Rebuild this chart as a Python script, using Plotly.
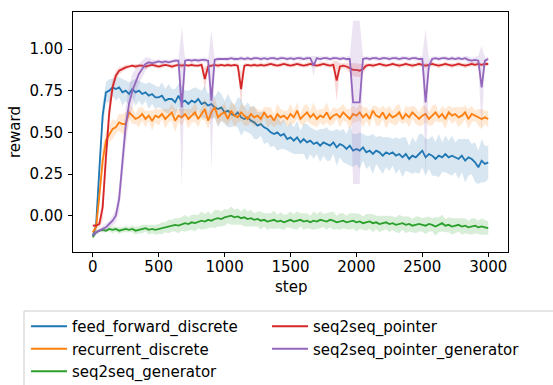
import plotly.graph_objects as go

steps = list(range(0, 3001, 25))

names = ["feed_forward_discrete", "recurrent_discrete", "seq2seq_generator",
         "seq2seq_pointer", "seq2seq_pointer_generator"]
colors = ["#1f77b4", "#ff7f0e", "#2ca02c", "#d62728", "#9467bd"]
fills = ["rgba(31,119,180,0.18)", "rgba(255,127,14,0.18)", "rgba(44,160,44,0.18)",
         "rgba(214,39,40,0.18)", "rgba(148,103,189,0.18)"]

ff_mean = [
    -0.12, -0.06, 0.28, 0.60, 0.74, 0.75, 0.77, 0.76, 0.77, 0.74,
    0.75, 0.73, 0.76, 0.74, 0.75, 0.73, 0.74, 0.72, 0.73, 0.71,
    0.71, 0.72, 0.69, 0.70, 0.70, 0.68, 0.72, 0.68, 0.69, 0.67,
    0.69, 0.68, 0.70, 0.67, 0.68, 0.66, 0.67, 0.65, 0.64, 0.65,
    0.62, 0.63, 0.61, 0.60, 0.62, 0.59, 0.58, 0.59, 0.57, 0.56,
    0.54, 0.55, 0.53, 0.52, 0.50, 0.49, 0.50, 0.48, 0.49, 0.46,
    0.47, 0.45, 0.47, 0.44, 0.46, 0.44, 0.45, 0.43, 0.44, 0.42,
    0.44, 0.43, 0.42, 0.44, 0.41, 0.43, 0.42, 0.40, 0.42, 0.39,
    0.40, 0.39, 0.41, 0.38, 0.39, 0.37, 0.39, 0.38, 0.36, 0.38,
    0.37, 0.38, 0.36, 0.37, 0.35, 0.37, 0.34, 0.36, 0.35, 0.37,
    0.39, 0.35, 0.37, 0.36, 0.34, 0.36, 0.35, 0.37, 0.35, 0.36,
    0.35, 0.34, 0.36, 0.33, 0.35, 0.34, 0.32, 0.29, 0.33, 0.31,
    0.32]
ff_band = [
    0.01, 0.04, 0.08, 0.08, 0.06, 0.07, 0.05, 0.07, 0.06, 0.08,
    0.06, 0.07, 0.05, 0.08, 0.06, 0.07, 0.05, 0.08, 0.06, 0.07,
    0.06, 0.08, 0.07, 0.09, 0.06, 0.08, 0.07, 0.10, 0.06, 0.08,
    0.07, 0.09, 0.06, 0.08, 0.10, 0.07, 0.09, 0.06, 0.11, 0.08,
    0.07, 0.10, 0.08, 0.06, 0.09, 0.11, 0.07, 0.09, 0.08, 0.10,
    0.08, 0.07, 0.10, 0.08, 0.09, 0.07, 0.11, 0.08, 0.09, 0.07,
    0.09, 0.08, 0.10, 0.07, 0.09, 0.11, 0.08, 0.09, 0.07, 0.10,
    0.08, 0.10, 0.09, 0.07, 0.11, 0.08, 0.10, 0.09, 0.12, 0.10,
    0.09, 0.11, 0.08, 0.10, 0.09, 0.12, 0.08, 0.10, 0.11, 0.09,
    0.10, 0.08, 0.11, 0.09, 0.12, 0.10, 0.08, 0.11, 0.09, 0.12,
    0.10, 0.11, 0.09, 0.12, 0.10, 0.13, 0.09, 0.11, 0.10, 0.12,
    0.09, 0.12, 0.10, 0.13, 0.11, 0.09, 0.12, 0.10, 0.13, 0.11,
    0.10]

rec_mean = [
    -0.10, -0.07, 0.12, 0.33, 0.45, 0.49, 0.52, 0.53, 0.56, 0.55,
    0.55, 0.62, 0.60, 0.58, 0.59, 0.61, 0.58, 0.60, 0.57, 0.60,
    0.59, 0.61, 0.58, 0.60, 0.62, 0.57, 0.60, 0.59, 0.61, 0.58,
    0.60, 0.62, 0.58, 0.61, 0.64, 0.57, 0.62, 0.65, 0.59, 0.61,
    0.62, 0.58, 0.63, 0.60, 0.59, 0.62, 0.60, 0.58, 0.61, 0.59,
    0.60, 0.58, 0.62, 0.59, 0.60, 0.57, 0.61, 0.59, 0.60, 0.58,
    0.61, 0.59, 0.63, 0.58, 0.60, 0.62, 0.59, 0.61, 0.58, 0.60,
    0.59, 0.62, 0.58, 0.60, 0.61, 0.59, 0.62, 0.60, 0.58, 0.61,
    0.60, 0.62, 0.59, 0.61, 0.58, 0.63, 0.60, 0.59, 0.62, 0.58,
    0.61, 0.59, 0.60, 0.62, 0.58, 0.61, 0.59, 0.62, 0.60, 0.58,
    0.60, 0.61, 0.58, 0.60, 0.62, 0.59, 0.61, 0.58, 0.62, 0.60,
    0.61, 0.59, 0.60, 0.62, 0.58, 0.61, 0.60, 0.59, 0.58, 0.59,
    0.58]
rec_band = [
    0.01, 0.03, 0.06, 0.08, 0.06, 0.05, 0.06, 0.04, 0.05, 0.06,
    0.07, 0.04, 0.05, 0.03, 0.06, 0.04, 0.05, 0.03, 0.06, 0.04,
    0.05, 0.03, 0.06, 0.04, 0.05, 0.07, 0.04, 0.05, 0.03, 0.06,
    0.04, 0.06, 0.05, 0.03, 0.07, 0.05, 0.04, 0.06, 0.05, 0.04,
    0.06, 0.04, 0.05, 0.07, 0.03, 0.05, 0.06, 0.04, 0.05, 0.06,
    0.04, 0.05, 0.03, 0.06, 0.05, 0.04, 0.06, 0.05, 0.03, 0.05,
    0.06, 0.04, 0.05, 0.03, 0.06, 0.05, 0.04, 0.07, 0.05, 0.04,
    0.05, 0.06, 0.04, 0.05, 0.03, 0.06, 0.05, 0.04, 0.06, 0.05,
    0.04, 0.05, 0.06, 0.04, 0.05, 0.03, 0.06, 0.05, 0.04, 0.06,
    0.05, 0.04, 0.06, 0.05, 0.03, 0.05, 0.06, 0.04, 0.05, 0.04,
    0.06, 0.05, 0.04, 0.06, 0.05, 0.03, 0.05, 0.06, 0.04, 0.05,
    0.04, 0.06, 0.05, 0.04, 0.06, 0.05, 0.03, 0.05, 0.06, 0.04,
    0.05]

gen_mean = [
    -0.13, -0.10, -0.09, -0.085, -0.09, -0.08, -0.085, -0.08, -0.09, -0.085,
    -0.08, -0.085, -0.08, -0.09, -0.085, -0.08, -0.075, -0.085, -0.08, -0.085,
    -0.08, -0.075, -0.07, -0.065, -0.06, -0.055, -0.06, -0.05, -0.045, -0.05,
    -0.04, -0.045, -0.035, -0.03, -0.035, -0.025, -0.03, -0.02, -0.015, -0.02,
    -0.01, -0.005, 0.0, -0.01, -0.005, -0.015, -0.01, -0.02, -0.015, -0.025,
    -0.02, -0.03, -0.025, -0.035, -0.03, -0.025, -0.035, -0.03, -0.04, -0.03,
    -0.025, -0.035, -0.03, -0.025, -0.035, -0.03, -0.04, -0.03, -0.035, -0.025,
    -0.03, -0.035, -0.025, -0.03, -0.04, -0.035, -0.03, -0.04, -0.035, -0.03,
    -0.04, -0.035, -0.045, -0.04, -0.035, -0.045, -0.04, -0.05, -0.045, -0.04,
    -0.05, -0.045, -0.055, -0.05, -0.045, -0.055, -0.05, -0.06, -0.055, -0.05,
    -0.055, -0.06, -0.05, -0.055, -0.065, -0.055, -0.045, -0.06, -0.055, -0.065,
    -0.06, -0.055, -0.065, -0.06, -0.07, -0.065, -0.06, -0.07, -0.065, -0.07,
    -0.075]
gen_band = [
    0.01, 0.015, 0.01, 0.015, 0.01, 0.015, 0.02, 0.015, 0.02, 0.015,
    0.02, 0.015, 0.02, 0.025, 0.02, 0.025, 0.02, 0.03, 0.025, 0.03,
    0.03, 0.035, 0.03, 0.04, 0.035, 0.04, 0.045, 0.04, 0.05, 0.04,
    0.045, 0.05, 0.04, 0.055, 0.045, 0.05, 0.04, 0.055, 0.05, 0.045,
    0.05, 0.04, 0.055, 0.045, 0.05, 0.04, 0.055, 0.045, 0.05, 0.04,
    0.045, 0.055, 0.04, 0.05, 0.045, 0.055, 0.04, 0.05, 0.045, 0.04,
    0.05, 0.045, 0.055, 0.04, 0.05, 0.045, 0.04, 0.055, 0.045, 0.05,
    0.04, 0.05, 0.045, 0.055, 0.04, 0.05, 0.045, 0.04, 0.05, 0.045,
    0.055, 0.045, 0.04, 0.05, 0.045, 0.055, 0.04, 0.05, 0.045, 0.04,
    0.05, 0.04, 0.045, 0.055, 0.04, 0.05, 0.045, 0.04, 0.05, 0.045,
    0.04, 0.05, 0.045, 0.04, 0.055, 0.045, 0.05, 0.04, 0.045, 0.05,
    0.045, 0.04, 0.05, 0.045, 0.04, 0.05, 0.045, 0.04, 0.05, 0.045,
    0.04]

ptr_mean = [
    -0.06, -0.06, -0.05, 0.05, 0.35, 0.62, 0.77, 0.84, 0.87, 0.88,
    0.89, 0.895, 0.90, 0.895, 0.90, 0.90, 0.895, 0.90, 0.905, 0.90,
    0.895, 0.90, 0.905, 0.90, 0.895, 0.90, 0.905, 0.90, 0.905, 0.90,
    0.905, 0.90, 0.90, 0.905, 0.82, 0.895, 0.90, 0.905, 0.90, 0.905,
    0.90, 0.905, 0.90, 0.905, 0.90, 0.76, 0.90, 0.905, 0.90, 0.905,
    0.90, 0.905, 0.90, 0.905, 0.91, 0.905, 0.90, 0.905, 0.91, 0.905,
    0.90, 0.905, 0.91, 0.905, 0.90, 0.905, 0.91, 0.905, 0.90, 0.905,
    0.91, 0.905, 0.90, 0.905, 0.81, 0.895, 0.90, 0.895, 0.885, 0.875,
    0.875, 0.87, 0.88, 0.90, 0.905, 0.90, 0.905, 0.91, 0.905, 0.90,
    0.905, 0.91, 0.905, 0.90, 0.905, 0.91, 0.905, 0.90, 0.905, 0.91,
    0.905, 0.90, 0.905, 0.91, 0.905, 0.90, 0.905, 0.91, 0.905, 0.90,
    0.905, 0.91, 0.905, 0.90, 0.905, 0.91, 0.905, 0.91, 0.905, 0.91,
    0.91]
ptr_band = [
    0.01, 0.01, 0.02, 0.08, 0.10, 0.08, 0.05, 0.03, 0.02, 0.015,
    0.015, 0.01, 0.01, 0.015, 0.01, 0.01, 0.015, 0.01, 0.01, 0.015,
    0.01, 0.015, 0.01, 0.01, 0.015, 0.01, 0.01, 0.015, 0.01, 0.01,
    0.015, 0.01, 0.01, 0.015, 0.07, 0.015, 0.01, 0.01, 0.015, 0.01,
    0.01, 0.015, 0.01, 0.01, 0.015, 0.10, 0.015, 0.01, 0.01, 0.015,
    0.01, 0.015, 0.01, 0.015, 0.01, 0.015, 0.01, 0.015, 0.01, 0.015,
    0.01, 0.015, 0.01, 0.015, 0.01, 0.015, 0.01, 0.015, 0.01, 0.015,
    0.01, 0.015, 0.01, 0.02, 0.12, 0.02, 0.015, 0.02, 0.03, 0.04,
    0.04, 0.04, 0.03, 0.015, 0.01, 0.015, 0.01, 0.01, 0.015, 0.01,
    0.01, 0.015, 0.01, 0.015, 0.01, 0.015, 0.01, 0.015, 0.01, 0.015,
    0.01, 0.015, 0.01, 0.015, 0.01, 0.015, 0.01, 0.015, 0.01, 0.015,
    0.01, 0.015, 0.01, 0.015, 0.01, 0.015, 0.01, 0.015, 0.01, 0.015,
    0.01]

pg_mean = [
    -0.12, -0.10, -0.09, -0.08, -0.07, -0.05, -0.03, 0.0, 0.10, 0.32,
    0.54, 0.67, 0.75, 0.80, 0.85, 0.88, 0.91, 0.92, 0.915, 0.92,
    0.925, 0.92, 0.925, 0.92, 0.925, 0.93, 0.93, 0.65, 0.93, 0.935,
    0.93, 0.935, 0.93, 0.935, 0.935, 0.93, 0.69, 0.935, 0.94, 0.94,
    0.94, 0.94, 0.945, 0.94, 0.94, 0.945, 0.94, 0.945, 0.94, 0.945,
    0.945, 0.94, 0.945, 0.94, 0.945, 0.945, 0.94, 0.945, 0.945, 0.94,
    0.945, 0.94, 0.945, 0.945, 0.94, 0.945, 0.945, 0.90, 0.945, 0.94,
    0.945, 0.945, 0.94, 0.945, 0.945, 0.94, 0.945, 0.94, 0.94, 0.68,
    0.68, 0.68, 0.94, 0.945, 0.94, 0.945, 0.945, 0.94, 0.945, 0.945,
    0.94, 0.945, 0.945, 0.94, 0.945, 0.945, 0.94, 0.945, 0.945, 0.94,
    0.94, 0.68, 0.90, 0.94, 0.945, 0.94, 0.945, 0.945, 0.94, 0.945,
    0.94, 0.945, 0.94, 0.945, 0.935, 0.93, 0.935, 0.93, 0.77, 0.93,
    0.94]
pg_band = [
    0.01, 0.015, 0.01, 0.015, 0.02, 0.02, 0.03, 0.04, 0.08, 0.12,
    0.12, 0.10, 0.10, 0.08, 0.06, 0.05, 0.04, 0.03, 0.02, 0.015,
    0.01, 0.015, 0.01, 0.015, 0.01, 0.015, 0.01, 0.48, 0.015, 0.01,
    0.015, 0.01, 0.015, 0.01, 0.015, 0.01, 0.42, 0.01, 0.015, 0.01,
    0.01, 0.015, 0.01, 0.015, 0.01, 0.015, 0.01, 0.015, 0.01, 0.015,
    0.01, 0.015, 0.01, 0.015, 0.01, 0.015, 0.01, 0.015, 0.01, 0.015,
    0.01, 0.015, 0.01, 0.015, 0.01, 0.015, 0.01, 0.06, 0.01, 0.015,
    0.01, 0.015, 0.01, 0.015, 0.01, 0.015, 0.01, 0.015, 0.02, 0.49,
    0.49, 0.49, 0.015, 0.01, 0.015, 0.01, 0.015, 0.01, 0.015, 0.01,
    0.015, 0.01, 0.015, 0.01, 0.015, 0.01, 0.015, 0.01, 0.015, 0.01,
    0.02, 0.44, 0.04, 0.015, 0.01, 0.015, 0.01, 0.015, 0.01, 0.015,
    0.01, 0.015, 0.01, 0.015, 0.02, 0.015, 0.02, 0.03, 0.25, 0.02,
    0.01]

means = [ff_mean, rec_mean, gen_mean, ptr_mean, pg_mean]
bands = [ff_band, rec_band, gen_band, ptr_band, pg_band]
legend_ids = ["legend", "legend", "legend", "legend2", "legend2"]

x_ticks = [0, 500, 1000, 1500, 2000, 2500, 3000]
y_ticks = [0.0, 0.25, 0.5, 0.75, 1.0]

FONT = "DejaVu Sans"
FS = 15

fig = go.Figure()
for i in range(5):
    m, b = means[i], bands[i]
    upper = [v + w for v, w in zip(m, b)]
    lower = [v - w for v, w in zip(m, b)]
    fig.add_trace(go.Scatter(
        x=steps + steps[::-1], y=upper + lower[::-1],
        fill="toself", fillcolor=fills[i], line=dict(width=0),
        mode="lines", showlegend=False, hoverinfo="skip"))
    fig.add_trace(go.Scatter(
        x=steps, y=m, mode="lines", name=names[i],
        line=dict(color=colors[i], width=1.8),
        legend=legend_ids[i], legendgroup=names[i]))

# pixel helpers for paper coordinates
L, R, T, B = 73, 508, 12, 252
def px(x):
    return (x - L) / (R - L)
def py(y):
    return (B - y) / (B - T)

fig.update_layout(
    width=553, height=385,
    margin=dict(l=L, r=553 - R, t=T, b=385 - B, autoexpand=False),
    paper_bgcolor="white", plot_bgcolor="white",
    font=dict(family=FONT, size=FS, color="black"),
    xaxis=dict(range=[-150, 3150], tickvals=x_ticks, ticks="outside",
               ticklen=4, tickwidth=1, tickcolor="black",
               showline=True, mirror=True, linecolor="black", linewidth=1,
               showgrid=False, zeroline=False, automargin=False,
               ticklabelstandoff=-3),
    yaxis=dict(range=[-0.218, 1.222], tickvals=y_ticks, tickformat=".2f",
               ticks="outside", ticklen=4, tickwidth=1, tickcolor="black",
               showline=True, mirror=True, linecolor="black", linewidth=1,
               showgrid=False, zeroline=False, automargin=False,
               ticklabelstandoff=2),
    legend=dict(x=px(26), y=py(310), xanchor="left", yanchor="top",
                orientation="v", bgcolor="rgba(0,0,0,0)", borderwidth=0,
                itemwidth=36, tracegroupgap=0,
                font=dict(family=FONT, size=FS, color="black")),
    legend2=dict(x=px(267), y=py(310), xanchor="left", yanchor="top",
                 orientation="v", bgcolor="rgba(0,0,0,0)", borderwidth=0,
                 itemwidth=36, tracegroupgap=0,
                 font=dict(family=FONT, size=FS, color="black")),
    showlegend=True,
    annotations=[
        dict(text="step", xref="paper", yref="paper", x=0.5, y=py(287),
             xanchor="center", yanchor="middle", showarrow=False,
             font=dict(family=FONT, size=FS)),
        dict(text="reward", xref="paper", yref="paper", x=px(15), y=0.5,
             xanchor="center", yanchor="middle", showarrow=False,
             textangle=-90, font=dict(family=FONT, size=FS)),
    ],
    shapes=[dict(type="rect", xref="paper", yref="paper",
                 x0=px(24), x1=px(600), y0=py(311), y1=py(400),
                 line=dict(color="#cccccc", width=1), layer="below")],
)

fig.write_html("out.html")
